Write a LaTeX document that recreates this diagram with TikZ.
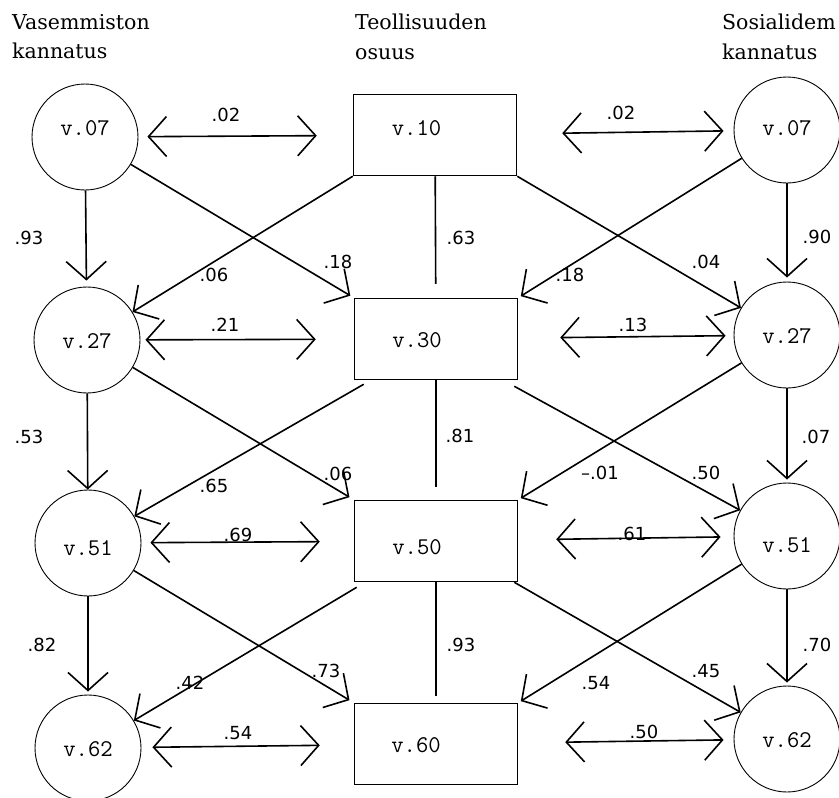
\documentclass[tikz,border=0pt]{standalone}
\usepackage{fontspec}
\setmainfont{DejaVu Serif}
\newfontfamily\numfont{DejaVu Sans}
\usetikzlibrary{arrows.meta}

\begin{document}
\begin{tikzpicture}[x=1pt,y=-1pt,
        var/.style={draw, circle, line width=0.9pt, minimum size=106pt, inner sep=0pt,
            text height=16pt, text depth=0pt, font=\ttfamily\fontsize{24}{24}\selectfont},
        box/.style={draw, rectangle, line width=1.5pt, minimum width=163pt, minimum height=81pt,
            inner sep=0pt, text height=16pt, text depth=0pt,
            font=\ttfamily\fontsize{24}{24}\selectfont},
        coef/.style={inner sep=0pt, font=\numfont\fontsize{18}{18}\selectfont},
        head/.style={inner sep=0pt, anchor=north west, align=left,
            font=\fontsize{20.5}{29.5}\selectfont},
        path/.style={->, >={Straight Barb[length=18pt,width=40pt]}, line width=1.6pt},
        both/.style={<->, >={Straight Barb[length=18pt,width=40pt]}, line width=1.6pt},
        plain/.style={line width=1.6pt}]
    \useasboundingbox (0,0) rectangle (839,798);

    %Headings
    \node[head] (hleft) at (12,14) {Vasemmiston\\kannatus};
    \node[head] (hmid) at (355,14) {Teollisuuden\\osuus};
    \node[head] (hright) at (722,14) {Sosialidem\\kannatus};

    %Nodes
    \node[var, text depth=20pt] (lv07) at (85,137) {v.07};
    \node[var] (lv27) at (87,340) {v.27};
    \node[var, text height=24pt] (lv51) at (88,543) {v.51};
    \node[var] (lv62) at (88,748) {v.62};
    \node[box, text depth=16pt] (t10) at (435,135) {v.10\kern37pt};
    \node[box] (t30) at (436,339) {v.30\kern38pt};
    \node[box, text height=26pt] (t50) at (436,541) {v.50\kern38pt};
    \node[box] (t60) at (436,744) {v.60\kern40pt};
    \node[var, text depth=6pt] (rv07) at (787,130) {v.07};
    \node[var] (rv27) at (787,335) {v.27};
    \node[var, text height=32pt] (rv51) at (787,536) {v.51};
    \node[var] (rv62) at (787,739) {v.62};

    %Lines
    \draw[both, shorten <=9pt, shorten >=36pt] (lv07) -- (t10);
    \draw[both, shorten <=45pt, shorten >=10pt] (t10) -- (rv07);
    \draw[both, shorten <=5pt, shorten >=38pt] (lv27) -- (t30);
    \draw[both, shorten <=42pt, shorten >=8pt] (t30) -- (rv27);
    \draw[both, shorten <=9pt, shorten >=34pt] (lv51) -- (t50);
    \draw[both, shorten <=38pt, shorten >=13pt] (t50) -- (rv51);
    \draw[both, shorten <=11pt, shorten >=34pt] (lv62) -- (t60);
    \draw[both, shorten <=47pt, shorten >=10pt] (t60) -- (rv62);

    \draw[path, shorten >=6pt] (lv07) -- (lv27);
    \draw[path] (lv27) -- (lv51);
    \draw[path, shorten >=3pt] (lv51) -- (lv62);
    \draw[path, shorten >=4pt] (rv07) -- (rv27);
    \draw[path, shorten >=3pt] (rv27) -- (rv51);
    \draw[path, shorten >=3pt] (rv51) -- (rv62);

    \draw[plain, shorten >=14pt] (t10) -- (t30);
    \draw[plain, shorten >=13pt] (t30) -- (t50);
    \draw[plain, shorten >=7pt] (t50) -- (t60);

    \draw[path, shorten >=4pt] (lv07) -- (t30.north west);
    \draw[path] (t10.south west) -- (lv27);
    \draw[path, shorten >=3pt] (rv07) -- (t30.north east);
    \draw[path] (t10.south east) -- (rv27);

    \draw[path, shorten >=5pt] (lv27) -- (t50.north west);
    \draw[path] ([xshift=10pt,yshift=-4pt]t30.south west) -- (lv51);
    \draw[path, shorten >=3pt] (rv27) -- (t50.north east);
    \draw[path] ([xshift=-4pt,yshift=-6pt]t30.south east) -- (rv51);

    \draw[path, shorten >=5pt] (lv51) -- (t60.north west);
    \draw[path] ([xshift=3pt,yshift=-5pt]t50.south west) -- (lv62);
    \draw[path, shorten >=3pt] (rv51) -- (t60.north east);
    \draw[path] ([xshift=-4pt]t50.south east) -- (rv62);

    %Coefficients
    \node[coef] (k1) at (226,115) {.02};
    \node[coef] (k2) at (621,113) {.02};
    \node[coef] (k3) at (225,325) {.21};
    \node[coef] (k4) at (633,325) {.13};
    \node[coef] (k5) at (238,535) {.69};
    \node[coef] (k6) at (632,534) {.61};
    \node[coef] (k7) at (238,733) {.54};
    \node[coef] (k8) at (644,732) {.50};

    \node[coef] (k9) at (29,238) {.93};
    \node[coef] (k10) at (29,437) {.53};
    \node[coef] (k11) at (42,645) {.82};
    \node[coef] (k12) at (817,237) {.90};
    \node[coef] (k13) at (816,437) {.07};
    \node[coef] (k14) at (817,645) {.70};
    \node[coef] (k15) at (461,238) {.63};
    \node[coef] (k16) at (460,436) {.81};
    \node[coef] (k17) at (461,645) {.93};

    \node[coef] (k18) at (214,275) {.06};
    \node[coef] (k19) at (338,262) {.18};
    \node[coef] (k20) at (570,275) {.18};
    \node[coef] (k21) at (706,262) {.04};
    \node[coef] (k22) at (214,486) {.65};
    \node[coef] (k23) at (338,474) {.06};
    \node[coef] (k24) at (600,473) {–.01};
    \node[coef] (k25) at (706,473) {.50};
    \node[coef] (k26) at (190,683) {.42};
    \node[coef] (k27) at (326,671) {.73};
    \node[coef] (k28) at (596,683) {.54};
    \node[coef] (k29) at (706,671) {.45};
\end{tikzpicture}
\end{document}
